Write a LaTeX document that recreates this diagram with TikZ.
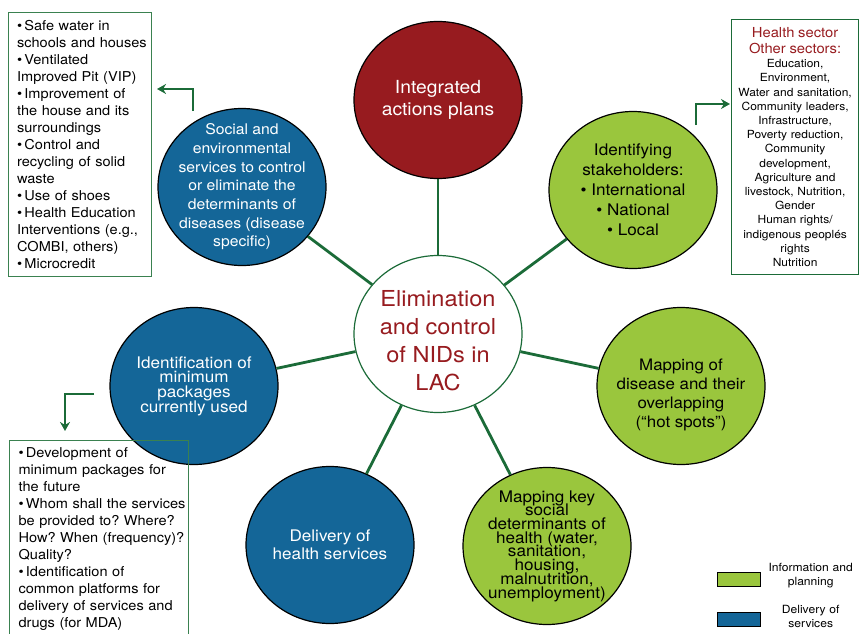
\documentclass[tikz,border=0pt]{standalone}
\usepackage{fontspec}
\setmainfont{TeX Gyre Heros}[FakeStretch=1.07]
\usetikzlibrary{shapes.geometric,positioning,arrows.meta}

\definecolor{nidred}{HTML}{971B1F}
\definecolor{leafgreen}{HTML}{9AC63D}
\definecolor{seablue}{HTML}{146698}
\definecolor{linkgreen}{HTML}{1B6B38}
\definecolor{boxgreen}{HTML}{3A8150}
\newcommand{\tightlines}{\lineskiplimit=-30pt\relax}
\frenchspacing
\hyphenpenalty=10000

\begin{document}
\begin{tikzpicture}[x=1pt,y=-1pt,>={Stealth[length=9pt,width=10pt]},
  bubble/.style={ellipse,draw=black,line width=1.2pt,minimum width=168pt,minimum height=157pt,inner sep=-40pt,align=center},
  info/.style={bubble,fill=leafgreen,text=black},
  service/.style={bubble,fill=seablue,text=white},
  link/.style={draw=linkgreen,line width=2.8pt},
  pointer/.style={link,->},
  listbox/.style={draw=boxgreen,line width=1.2pt,inner ysep=5pt},
  keybox/.style={draw=black,line width=1pt,minimum width=43pt,minimum height=14pt,inner sep=0pt},
  keytext/.style={text width=86pt,align=center,inner sep=0pt,yshift=3pt,font=\fontsize{11.3}{14}\selectfont}]
\useasboundingbox (0,0) rectangle (859,634);
\clip (0,0) rectangle (859,634);

% centre and the seven fields round it
\node[bubble,fill=white,draw=linkgreen,text=nidred,font=\fontsize{22}{28}\selectfont] (hub) at (438,334) {\rule{0pt}{30pt}Elimination\\and control\\of NIDs in\\LAC};
\node[bubble,fill=nidred,text=white,font=\fontsize{18}{22}\selectfont] (integ) at (438,100) {Integrated\\actions plans};
\node[info,font=\fontsize{16}{20}\selectfont] (stake) at (633,190) {Identifying\\stakeholders:\\• International\\• National\\• Local};
\node[info,font=\fontsize{15.8}{19}\selectfont] (hotspot) at (681,386) {\rule{0pt}{30pt}Mapping of\\disease and their\\overlapping\\(“hot spots”)};
\node[info,font={\fontsize{16}{13.7}\selectfont\tightlines}] (determ) at (547,546) {Mapping key\\social\\determinants of\\health (water,\\sanitation,\\housing,\\malnutrition,\\unemployment)};
\node[service,font=\fontsize{16}{18.5}\selectfont] (delivery) at (330,545) {Delivery of\\health services};
\node[service,font={\fontsize{16}{14.7}\selectfont\tightlines}] (minpack) at (194,386) {Identification of\\minimum\\packages\\currently used};
\node[service,font=\fontsize{14.7}{18.7}\selectfont] (social) at (242,187) {Social and\\environmental\\services to control\\or eliminate the\\determinants of\\diseases (disease\\specific)};

\foreach \n in {integ,stake,hotspot,determ,delivery,minpack,social}
  \draw[link] (hub) -- (\n);

% side lists
\node[listbox,anchor=north west,text width=136pt,inner xsep=3.5pt,minimum height=264pt,align=left,font=\fontsize{13.6}{17}\selectfont,execute at begin node={\leftskip=5pt}] (envbox) at (8,12) {•\,Safe water in\\schools and houses\\•\,Ventilated\\Improved Pit (VIP)\\•\,Improvement of\\the house and its\\surroundings\\•\,Control and\\recycling of solid\\waste\\•\,Use of shoes\\•\,Health Education\\Interventions (e.g.,\\COMBI, others)\\•\,Microcredit};
\node[listbox,draw=linkgreen,anchor=north west,text width=121pt,inner xsep=3pt,minimum height=255pt,align=center,font=\fontsize{11.2}{14.2}\selectfont] (sectbox) at (731,19) {{\color{nidred}\fontsize{13.8}{16}\selectfont Health sector\\Other sectors:\par}Education,\\Environment,\\Water and sanitation,\\Community leaders,\\Infrastructure,\\Poverty reduction,\\Community\\development,\\Agriculture and\\livestock, Nutrition,\\Gender\\Human rights/\\indigenous peoplés\\rights\\Nutrition};
\node[listbox,anchor=north west,text width=175pt,inner xsep=2pt,inner ysep=7pt,align=left,font=\fontsize{13.6}{17}\selectfont,execute at begin node={\leftskip=7pt}] (packbox) at (9,440) {•\,Development of\\minimum packages for\\the future\\•\,Whom shall the services\\be provided to? Where?\\How? When (frequency)?\\Quality?\\•\,Identification of\\common platforms for\\delivery of services and\\drugs (for MDA)};

\coordinate (envfrom) at (193,111);
\coordinate (envto) at (157,89);
\draw[pointer] (envfrom) |- (envto);
\coordinate (sectfrom) at (696,125);
\coordinate (sectto) at (730,104);
\draw[pointer] (sectfrom) |- (sectto);
\coordinate (packfrom) at (94,394);
\coordinate (packto) at (65,431);
\draw[pointer] (packfrom) -| (packto);

% key
\node[keybox,fill=leafgreen] (infokey) at (738.5,579) {};
\node[keytext,right=7pt of infokey] (infolabel) {Information and\\planning};
\node[keybox,fill=seablue] (servkey) at (738.5,619.5) {};
\node[keytext,right=7pt of servkey] (servlabel) {Delivery of\\services};
\end{tikzpicture}
\end{document}
